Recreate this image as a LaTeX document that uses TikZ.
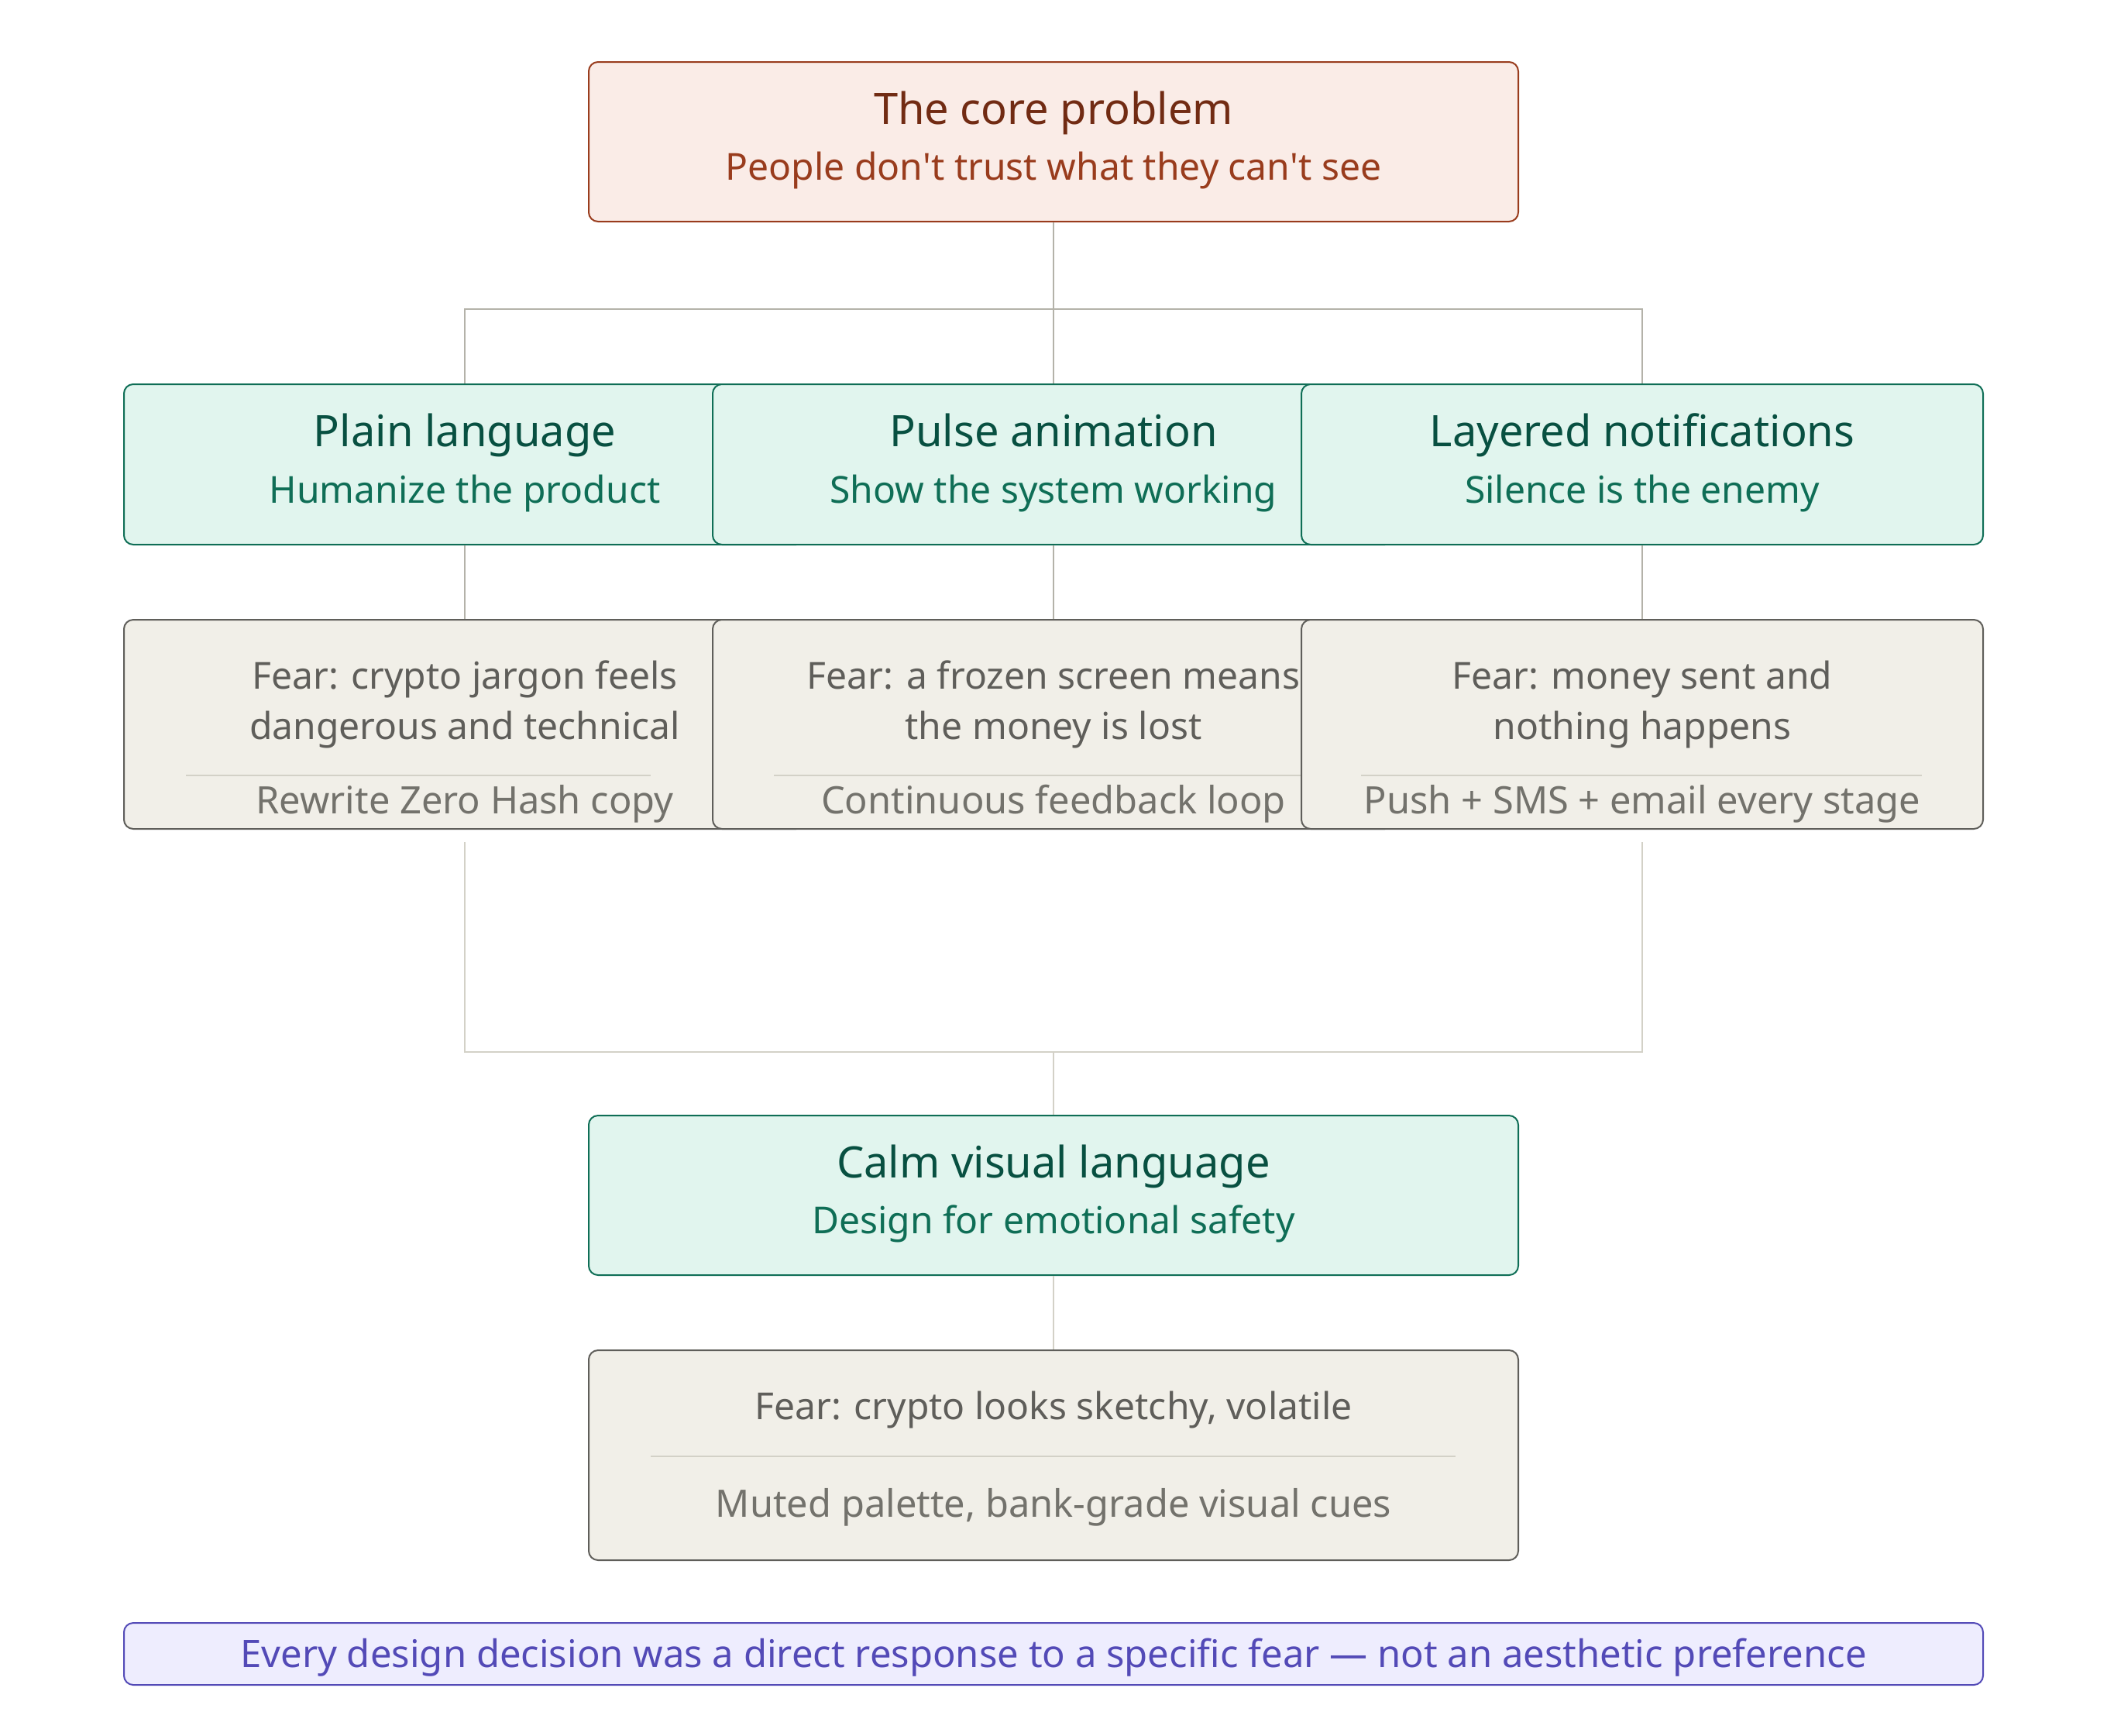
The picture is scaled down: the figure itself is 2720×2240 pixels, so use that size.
\documentclass[tikz,border=0pt]{standalone}
\usepackage{fontspec}
\setmainfont{Noto Sans}
\definecolor{probFill}{HTML}{FAECE7}
\definecolor{probLine}{HTML}{993C1D}
\definecolor{probTitle}{HTML}{712B13}
\definecolor{solFill}{HTML}{E1F5EE}
\definecolor{solLine}{HTML}{0F6E56}
\definecolor{solTitle}{HTML}{085041}
\definecolor{fearFill}{HTML}{F1EFE8}
\definecolor{fearLine}{HTML}{5F5E5A}
\definecolor{fearText}{HTML}{5F5E5A}
\definecolor{fixText}{HTML}{73726C}
\definecolor{sepLine}{HTML}{D3D1C7}
\definecolor{noteFill}{HTML}{EEEDFE}
\definecolor{noteLine}{HTML}{534AB7}
\definecolor{connA}{HTML}{B4B2A9}
\definecolor{connB}{HTML}{D3D1C7}
\begin{document}
\begin{tikzpicture}[x=0.25pt,y=-0.25pt,
  boxbase/.style={rounded corners=3pt, line width=0.5pt, inner sep=0pt},
  probbox/.style={boxbase, fill=probFill, draw=probLine},
  solbox/.style={boxbase, fill=solFill, draw=solLine},
  fearbox/.style={boxbase, fill=fearFill, draw=fearLine},
  notebox/.style={boxbase, fill=noteFill, draw=noteLine},
  wide/.style={minimum width=300pt},
  narrow/.style={minimum width=220pt},
  txt/.style={inner sep=0pt, anchor=base},
  ttl/.style={txt, font=\fontsize{14}{16}\selectfont},
  sub/.style={txt, font=\fontsize{12}{14}\selectfont},
  feartxt/.style={txt, font=\fontsize{12}{14}\selectfont, text=fearText},
  fixtxt/.style={txt, font=\fontsize{12.2}{14}\selectfont, text=fixText},
  sep/.style={draw=sepLine, line width=0.5pt},
  conn/.style={draw=connA, line width=0.4pt},
  connlow/.style={draw=connB, line width=0.4pt}
]
\useasboundingbox (0,0) rectangle (2720,2240);
\fill[white] (0,0) rectangle (2720,2240);

% core problem
\node[probbox, wide, minimum height=51.5pt] (core) at (1360,183) {};
\node[ttl, text=probTitle] (coreT) at (1360,160) {The core problem};
\node[sub, text=probLine] (coreS) at (1360,232) {People don\textquotesingle t trust what they can\textquotesingle t see};

% solution row
\node[solbox, narrow, minimum height=51.75pt] (plain) at (600,599.5) {};
\node[ttl, text=solTitle] (plainT) at (600,576) {Plain language};
\node[sub, text=solLine] (plainS) at (600,649) {Humanize the product};

\node[solbox, narrow, minimum height=51.75pt] (pulse) at (1360,599.5) {};
\node[ttl, text=solTitle] (pulseT) at (1360,576) {Pulse animation};
\node[sub, text=solLine] (pulseS) at (1360,649) {Show the system working};

\node[solbox, narrow, minimum height=51.75pt] (notif) at (2120,599.5) {};
\node[ttl, text=solTitle] (notifT) at (2120,576) {Layered notifications};
\node[sub, text=solLine] (notifS) at (2120,649) {Silence is the enemy};

% fear row
\node[fearbox, narrow, minimum height=67.5pt] (plainF) at (600,935) {};
\node[feartxt] (plainF1) at (600,889) {Fear: crypto jargon feels};
\node[feartxt] (plainF2) at (600,954) {dangerous and technical};
\draw[sep] (240,1001) -- (840,1001);
\node[fixtxt] (plainX) at (600,1050) {Rewrite Zero Hash copy};

\node[fearbox, narrow, minimum height=67.5pt] (pulseF) at (1360,935) {};
\node[feartxt] (pulseF1) at (1360,889) {Fear: a frozen screen means};
\node[feartxt] (pulseF2) at (1360,954) {the money is lost};
\draw[sep] (999,1001) -- (1721,1001);
\node[fixtxt] (pulseX) at (1360,1050) {Continuous feedback loop};

\node[fearbox, narrow, minimum height=67.5pt] (notifF) at (2120,935) {};
\node[feartxt] (notifF1) at (2120,889) {Fear: money sent and};
\node[feartxt] (notifF2) at (2120,954) {nothing happens};
\draw[sep] (1757,1001) -- (2481,1001);
\node[fixtxt] (notifX) at (2120,1050) {Push + SMS + email every stage};

% calm
\node[solbox, wide, minimum height=51.5pt] (calm) at (1360,1543) {};
\node[ttl, text=solTitle] (calmT) at (1360,1520) {Calm visual language};
\node[sub, text=solLine] (calmS) at (1360,1592) {Design for emotional safety};

\node[fearbox, wide, minimum height=67.75pt] (calmF) at (1360,1878.5) {};
\node[feartxt] (calmF1) at (1360,1832) {Fear: crypto looks sketchy, volatile};
\draw[sep] (840,1880) -- (1879,1880);
\node[fixtxt] (calmX) at (1360,1958) {Muted palette, bank-grade visual cues};

% banner
\node[notebox, minimum width=600pt, minimum height=20pt] (note) at (1360,2135) {};
\node[txt, font=\fontsize{12.25}{14}\selectfont, text=noteLine] (noteT) at (1360,2152) {Every design decision was a direct response to a specific fear — not an aesthetic preference};

% connectors
\coordinate (split) at (1360,399);
\coordinate (merge) at (1360,1358);
\draw[conn] (core.south) -- (pulse.north);
\draw[conn] (plain.north) |- (split) -| (notif.north);
\draw[conn] (plain.south) -- (plainF.north);
\draw[conn] (pulse.south) -- (pulseF.north);
\draw[conn] (notif.south) -- (notifF.north);
\draw[connlow] ([yshift=-4pt]plainF.south) |- (merge) -| ([yshift=-4pt]notifF.south);
\draw[connlow] (merge) -- (calm.north);
\draw[connlow] (calm.south) -- (calmF.north);
\end{tikzpicture}
\end{document}
